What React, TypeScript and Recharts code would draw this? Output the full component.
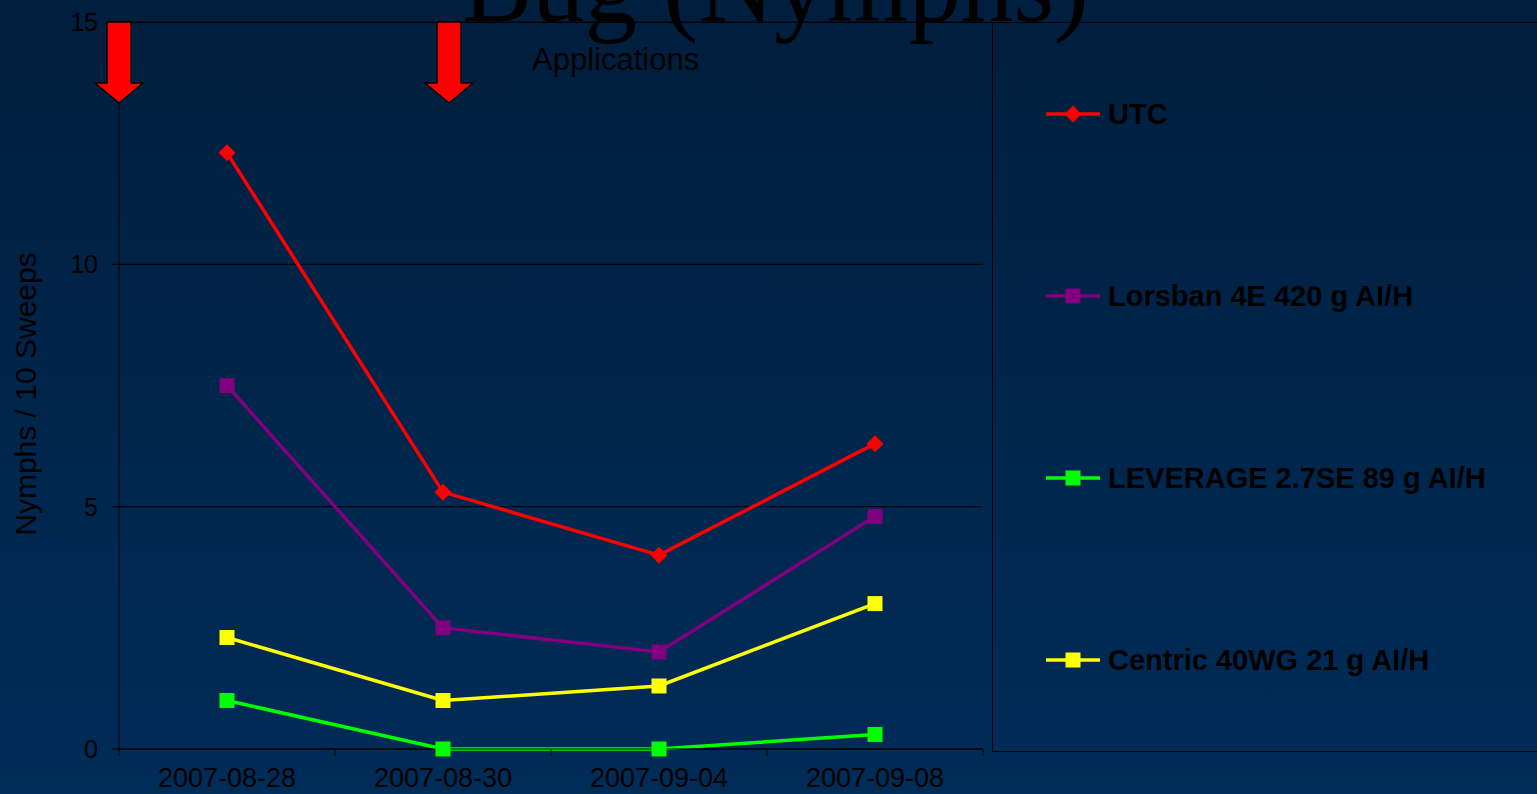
import React from 'react';
import { LineChart, Line, XAxis, YAxis, CartesianGrid, Legend } from 'recharts';

const dates = ['2007-08-28', '2007-08-30', '2007-09-04', '2007-09-08'];
const utc = [12.3, 5.3, 4.0, 6.3];
const lorsban = [7.5, 2.5, 2.0, 4.8];
const leverage = [1.0, 0, 0, 0.3];
const centric = [2.3, 1.0, 1.3, 3.0];
const yTicks = [0, 5, 10, 15];

const series = [
  { key: 'utc', name: 'UTC', color: '#ff0000', marker: 'diamond' },
  { key: 'lorsban', name: 'Lorsban 4E 420 g AI/H', color: '#800080', marker: 'square' },
  { key: 'leverage', name: 'LEVERAGE 2.7SE 89 g AI/H', color: '#00ff00', marker: 'square' },
  { key: 'centric', name: 'Centric 40WG 21 g AI/H', color: '#ffff00', marker: 'square' },
];

const data = dates.map((date, i) => ({
  date,
  utc: utc[i],
  lorsban: lorsban[i],
  leverage: leverage[i],
  centric: centric[i],
}));

const SANS = '"Liberation Sans", Arial, sans-serif';
const SERIF = '"Liberation Serif", "Times New Roman", serif';
const PAD = 108; // half of the category step, so points sit mid-band

function Marker({ cx, cy, color, marker }: any) {
  if (marker === 'diamond') {
    return <path d={`M${cx} ${cy - 8.5}L${cx + 8.5} ${cy}L${cx} ${cy + 8.5}L${cx - 8.5} ${cy}Z`} fill={color} />;
  }
  return <rect x={cx - 7.5} y={cy - 7.5} width={15} height={15} fill={color} />;
}

const makeDot = (color: string, marker: string) => (props: any) => {
  const { cx, cy, index } = props;
  if (cx == null || cy == null) return <g key={index} />;
  return <Marker key={index} cx={cx} cy={cy} color={color} marker={marker} />;
};

// Excel-style: tick marks between categories, label at the middle
const XTick = (props: any) => {
  const { x, y, payload } = props;
  const last = payload.value === dates[dates.length - 1];
  return (
    <g>
      <line x1={x - PAD} x2={x - PAD} y1={y} y2={y + 7} stroke="#000" />
      {last && <line x1={x + PAD} x2={x + PAD} y1={y} y2={y + 7} stroke="#000" />}
      <text x={x} y={y + 38} textAnchor="middle" fill="#000" fontSize={27} fontFamily={SANS}>
        {payload.value}
      </text>
    </g>
  );
};

const renderLegend = ({ payload }: any) => {
  const items = [...(payload || [])].sort(
    (a: any, b: any) => series.findIndex(s => s.name === a.value) - series.findIndex(s => s.name === b.value),
  );
  return (
    <div>
      {items.map((entry: any) => {
        const s = series.find(v => v.name === entry.value);
        return (
          <div key={entry.value} style={{ height: 182, display: 'flex', alignItems: 'center', paddingLeft: 53 }}>
            <svg width={56} height={20}>
              <line x1={0} x2={54} y1={10} y2={10} stroke={entry.color} strokeWidth={3.5} />
              <Marker cx={27} cy={10} color={entry.color} marker={s?.marker} />
            </svg>
            <span style={{ marginLeft: 6, fontFamily: SANS, fontWeight: 'bold', fontSize: 29, color: '#000', whiteSpace: 'nowrap' }}>
              {entry.value}
            </span>
          </div>
        );
      })}
    </div>
  );
};

const arrow = (cx: number) =>
  `M${cx - 12} 22L${cx + 12} 22L${cx + 12} 83L${cx + 24} 83L${cx} 103L${cx - 24} 83L${cx - 12} 83Z`;

export default function App() {
  return (
    <div style={{
      position: 'absolute', left: 0, top: 0, width: 1537, height: 794, overflow: 'hidden',
      background: 'linear-gradient(to bottom, #001e3d, #002c58)',
    }}>
      <LineChart width={1537} height={794} data={data} margin={{ top: 22, right: 554, bottom: 0, left: 0 }}>
        <CartesianGrid vertical={false} stroke="#000" />
        <XAxis dataKey="date" interval={0} padding={{ left: PAD, right: PAD }} height={45}
          axisLine={{ stroke: '#000' }} tickLine={false} tickSize={0} tickMargin={0} tick={<XTick />} />
        <YAxis domain={[0, 15]} ticks={yTicks} width={119} tickSize={7} tickMargin={14}
          axisLine={{ stroke: '#000' }} tickLine={{ stroke: '#000' }}
          tick={{ fill: '#000', fontSize: 25, fontFamily: SANS }} />
        <YAxis yAxisId="right" orientation="right" domain={[0, 15]} width={0} tick={false} tickLine={false}
          axisLine={{ stroke: '#000' }} />
        <Legend layout="horizontal" verticalAlign="middle" align="center" content={renderLegend}
          wrapperStyle={{ left: 992, top: 22, width: 560, height: 730, border: '1px solid #000', boxSizing: 'border-box' }} />
        {series.map(s => (
          <Line key={s.key} dataKey={s.key} name={s.name} stroke={s.color} strokeWidth={3.5}
            dot={makeDot(s.color, s.marker)} activeDot={false} isAnimationActive={false} />
        ))}
      </LineChart>

      {/* annotations drawn over the chart */}
      <svg width={1537} height={794} style={{ position: 'absolute', left: 0, top: 0, pointerEvents: 'none' }}>
        <line x1={119} x2={1537} y1={22.5} y2={22.5} stroke="#000" />
        <text x={462} y={21} fontSize={105} fontFamily={SERIF} fill="#000">Bug (Nymphs)</text>
        <text x={532} y={70} fontSize={31} fontFamily={SANS} fill="#000">Applications</text>
        <path d={arrow(119)} fill="#ff0000" stroke="#000" strokeWidth={1.5} />
        <path d={arrow(449)} fill="#ff0000" stroke="#000" strokeWidth={1.5} />
        <text x={36} y={394} transform="rotate(-90 36 394)" textAnchor="middle" fontSize={30} fontFamily={SANS} fill="#000">
          Nymphs / 10 Sweeps
        </text>
      </svg>
    </div>
  );
}
